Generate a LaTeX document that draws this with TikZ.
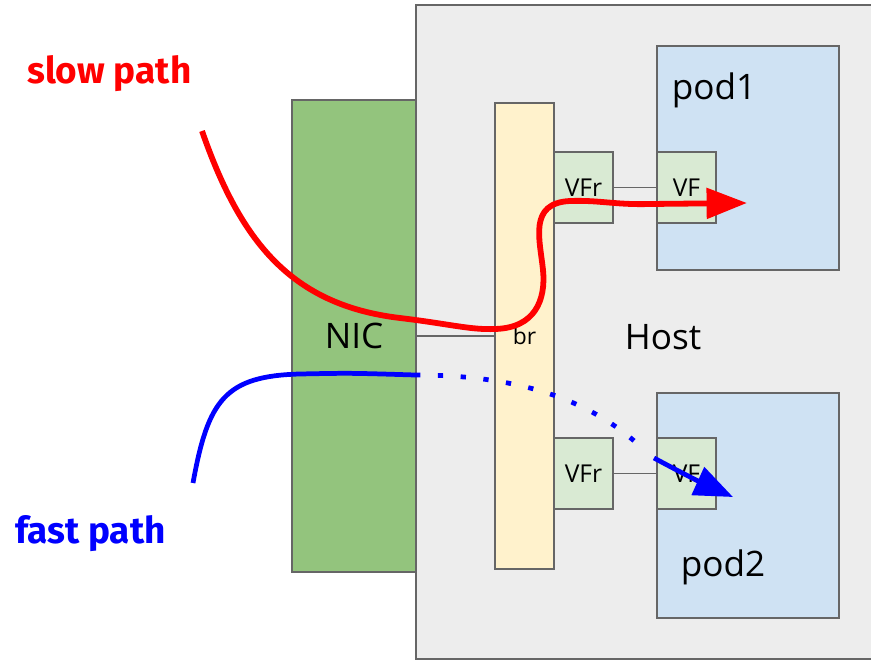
\documentclass[tikz,border=0pt]{standalone}
\usepackage{fontspec}
\setmainfont{Open Sans}
\newfontfamily\pathfont{Fira Sans}
\usetikzlibrary{arrows.meta}

\definecolor{boxline}{HTML}{666666}
\definecolor{hostfill}{HTML}{EDEDED}
\definecolor{nicfill}{HTML}{93C47D}
\definecolor{brfill}{HTML}{FFF2CC}
\definecolor{vffill}{HTML}{D9EAD3}
\definecolor{podfill}{HTML}{CFE2F3}

\tikzset{
  box/.style={draw=boxline, line width=0.9pt, inner sep=0pt},
  vfbox/.style={box, fill=vffill, minimum width=1.18cm, minimum height=1.42cm,
    font=\fontsize{14}{16}\selectfont},
  podbox/.style={box, fill=podfill, minimum width=3.64cm},
  link/.style={draw=boxline, line width=0.9pt},
  bigtext/.style={inner sep=0pt, font=\fontsize{20}{24}\selectfont},
  pathtext/.style={inner sep=0pt, anchor=base west, font=\pathfont\bfseries\fontsize{21}{25}\selectfont},
  slow/.style={red, line width=3.3pt},
  fast/.style={blue, line width=2.7pt},
}

\begin{document}
\begin{tikzpicture}[x=0.02cm, y=-0.02cm]
  \useasboundingbox (0,0) rectangle (871,661);

  % host and its parts
  \node[box, fill=hostfill, minimum width=9.14cm, minimum height=13.08cm] (host) at (644.5,332) {};
  \node[box, fill=nicfill, minimum width=2.48cm, minimum height=9.44cm, font=\fontsize{20}{24}\selectfont] (nic) at (354,336) {NIC};
  \node[box, fill=brfill, minimum width=1.18cm, minimum height=9.32cm, font=\fontsize{13}{15}\selectfont] (br) at (524.5,336) {br};

  \node[podbox, minimum height=4.48cm] (podA) at (748,158) {};
  \node[podbox, minimum height=4.5cm] (podB) at (748,505.5) {};

  \node[vfbox] (vfrA) at (583.5,187.5) {VFr};
  \node[vfbox] (vfA) at (686.5,187.5) {VF};
  \node[vfbox] (vfrB) at (583.5,473.5) {VFr};
  \node[vfbox] (vfB) at (686.5,473.5) {VF};

  \draw[link] (nic) -- (br);
  \draw[link] (vfrA) -- (vfA);
  \draw[link] (vfrB) -- (vfB);

  \node[bigtext] (hostlabel) at (663,337) {Host};
  \node[bigtext] (podAlabel) at (714,90) {pod1};
  \node[bigtext] (podBlabel) at (723,567) {pod2};

  % slow path
  \node[pathtext, red] (slowlabel) at (27,84) {slow path};
  \coordinate (slowA) at (202,131);
  \coordinate (slowB) at (747,203);
  \draw[slow, -{Triangle[length=23pt, width=17pt]}] (slowA)
    .. controls (240,240) and (290,305) .. (400,318)
    .. controls (450,324) and (470,330) .. (495,329)
    .. controls (535,328) and (546,300) .. (543,270)
    .. controls (540,240) and (528,203) .. (570,201)
    .. controls (600,200) and (615,205) .. (650,204)
    -- (slowB);

  % fast path
  \node[pathtext, blue] (fastlabel) at (15,543) {fast path};
  \coordinate (fastA) at (193,483);
  \coordinate (fastB) at (415,375);
  \coordinate (fastC) at (641,447);
  \coordinate (fastD) at (654,458);
  \coordinate (fastE) at (733,497);
  \draw[fast] (fastA)
    .. controls (208,400) and (225,376) .. (300,374)
    .. controls (350,373) .. (fastB);
  \draw[fast, dash pattern=on 3pt off 10pt] (fastB)
    .. controls (520,375) and (590,400) .. (fastC);
  \draw[fast, -{Triangle[length=22pt, width=17pt]}] (fastD)
    .. controls (680,472) and (700,482) .. (fastE);
\end{tikzpicture}
\end{document}
